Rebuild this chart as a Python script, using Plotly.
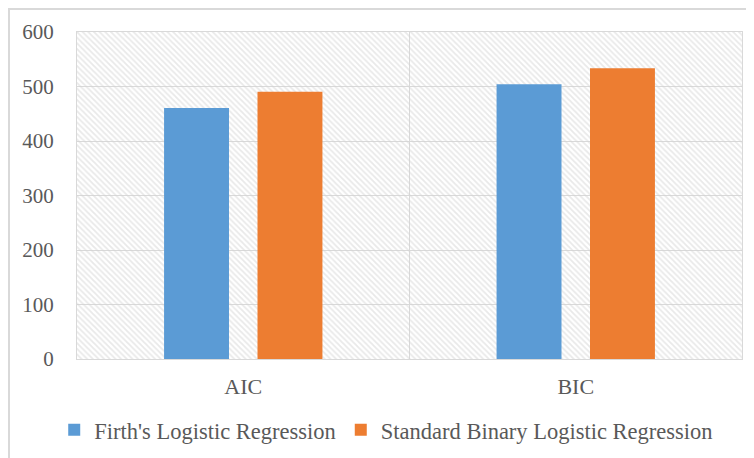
import plotly.graph_objects as go

categories = ["AIC", "BIC"]
firth_values = [460.5, 504.0]
standard_values = [490.5, 533.5]
series_names = ["Firth's Logistic Regression", "Standard Binary Logistic Regression"]
y_ticks = [0, 100, 200, 300, 400, 500, 600]

blue = "#5B9BD5"
orange = "#ED7D31"
grid = "#d9d9d9"
txt = "#595959"
font_family = "Liberation Serif, Times New Roman, serif"

fig = go.Figure()

# hatched plot-area background (on base axes, drawn beneath data bars)
fig.add_trace(go.Bar(
    x=[0.5], y=[max(y_ticks)], width=[1.0],
    xaxis="x", yaxis="y",
    marker=dict(color="rgba(0,0,0,0)", line=dict(width=0),
                pattern=dict(shape="\\", fgcolor="#d3d3d3", bgcolor="rgba(0,0,0,0)",
                             size=4, solidity=0.45, fillmode="overlay")),
    showlegend=False, hoverinfo="skip",
))

fig.add_trace(go.Bar(
    x=categories, y=firth_values, name=series_names[0],
    marker=dict(color=blue, line=dict(width=0)),
    xaxis="x2", yaxis="y2",
))
fig.add_trace(go.Bar(
    x=categories, y=standard_values, name=series_names[1],
    marker=dict(color=orange, line=dict(width=0)),
    xaxis="x2", yaxis="y2",
))

L, R, T, B = 69, 20, 24, 107
PW, PH = 754 - L - R, 458 - T - B

fig.update_layout(
    width=754, height=458,
    margin=dict(l=L, r=R, t=T, b=B, autoexpand=False),
    paper_bgcolor="white", plot_bgcolor="white",
    font=dict(family=font_family, color=txt, size=22),
    barmode="group", bargap=0.438, bargroupgap=0.305,
    xaxis=dict(range=[0, 1], showticklabels=False, showgrid=False, zeroline=False,
               showline=True, linecolor=grid, linewidth=1, mirror=True, fixedrange=True,
               automargin=False),
    yaxis=dict(range=[0, 600], tickvals=y_ticks, showgrid=True, gridcolor=grid, gridwidth=1,
               zeroline=False, showline=True, linecolor=grid, linewidth=1, mirror=True,
               ticks="", ticklabelstandoff=18, tickfont=dict(size=21, color=txt),
               automargin=False),
    xaxis2=dict(overlaying="x", type="category", categoryorder="array", categoryarray=categories,
                range=[-0.5, 1.5], tickson="boundaries", showgrid=True, gridcolor=grid, gridwidth=1,
                ticks="", ticklabelstandoff=12, tickfont=dict(size=22, color=txt),
                showline=False, zeroline=False, automargin=False),
    yaxis2=dict(overlaying="y", range=[0, 600], showticklabels=False, showgrid=False,
                zeroline=False, showline=False, automargin=False),
    legend=dict(orientation="h", x=0.465, xanchor="center", y=-0.152, yanchor="top",
                font=dict(size=22.5, color=txt), bgcolor="rgba(0,0,0,0)",
                itemwidth=30, traceorder="normal"),
    shapes=[dict(type="rect", xref="paper", yref="paper",
                 x0=(1 - L) / PW, x1=1 + 60 / PW, y0=-0.6, y1=1 + (T - 1) / PH,
                 line=dict(color=grid, width=2), fillcolor="rgba(0,0,0,0)", layer="below")],
)

fig.write_html("out.html")
